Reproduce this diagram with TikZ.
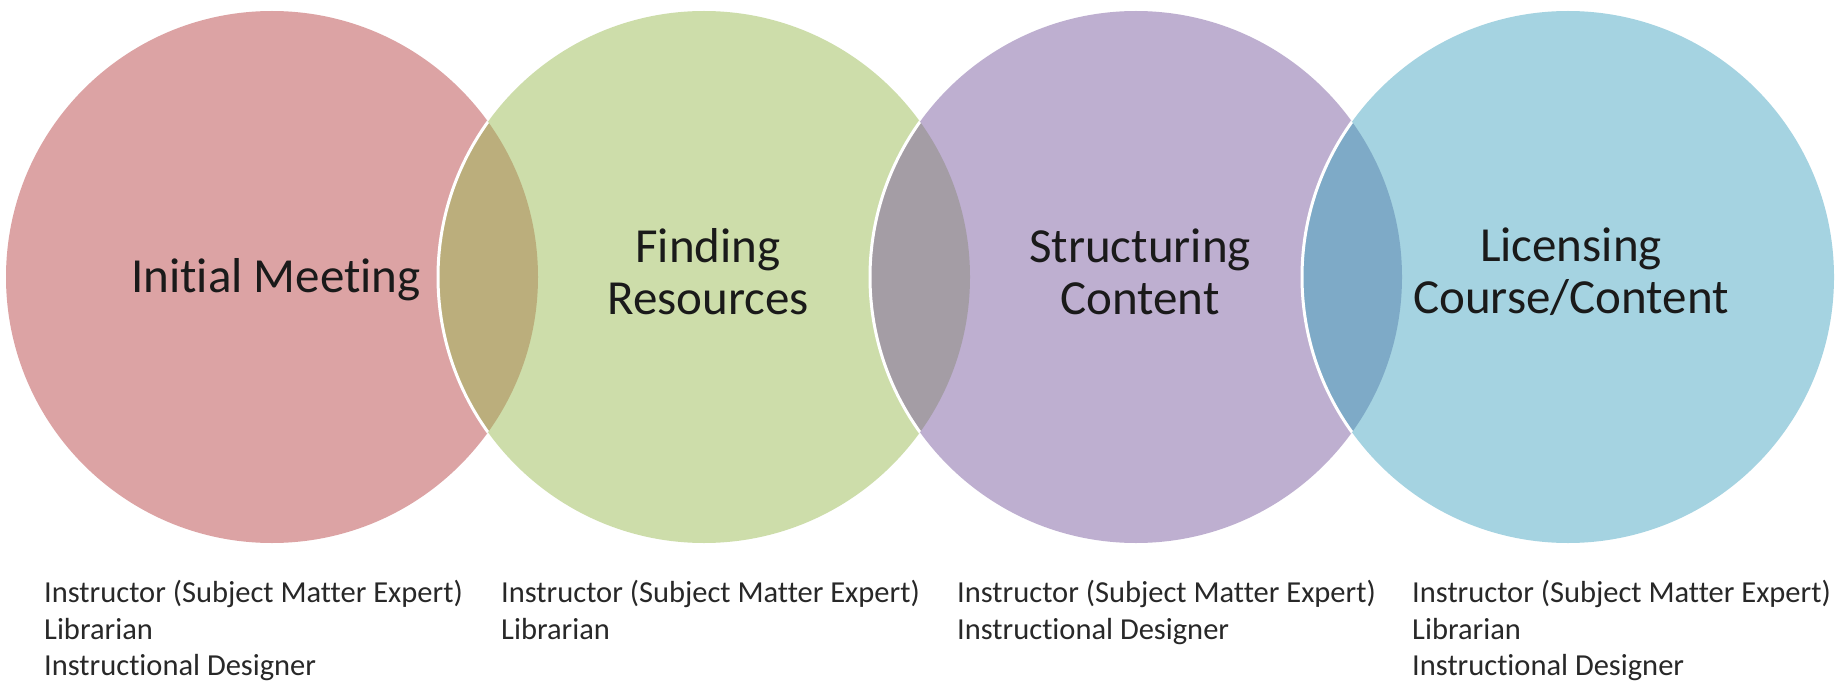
\documentclass[tikz,border=0pt]{standalone}
\usepackage{fontspec}
\setmainfont[Ligatures=NoCommon]{Carlito}
\definecolor{cRed}{RGB}{220,163,164}
\definecolor{cGreen}{RGB}{205,221,170}
\definecolor{cPurple}{RGB}{190,175,208}
\definecolor{cBlue}{RGB}{165,211,225}
\definecolor{oRG}{RGB}{187,174,124}
\definecolor{oGP}{RGB}{164,157,165}
\definecolor{oPB}{RGB}{126,170,199}
\definecolor{txt}{RGB}{26,26,26}
\definecolor{txtB}{RGB}{40,40,40}
\begin{document}
\begin{tikzpicture}[x=1pt,y=-1pt,
  bub/.style={circle,minimum size=532pt,inner sep=0pt,draw=none},
  ttl/.style={align=center,font=\fontsize{49}{52}\selectfont,text=txt,inner sep=0pt},
  who/.style={align=left,font=\fontsize{30.5}{36.5}\selectfont,anchor=north west,inner sep=0pt,text=txtB},
  rim/.style={draw=white,line width=3pt}]
\fill[white] (0,0) rectangle (1837,682);
\useasboundingbox (0,0) rectangle (1837,682);
% circles
\node[bub,fill=cRed]    (c1) at (272,277) {};
\node[bub,fill=cGreen]  (c2) at (704,277) {};
\node[bub,fill=cPurple] (c3) at (1136,277) {};
\node[bub,fill=cBlue]   (c4) at (1568,277) {};
% overlaps
\begin{scope}
  \clip (c1.center) circle[radius=266];
  \fill[oRG] (c2.center) circle[radius=266];
  \draw[rim] (c2.center) circle[radius=266];
\end{scope}
\begin{scope}
  \clip (c2.center) circle[radius=266];
  \fill[oGP] (c3.center) circle[radius=266];
  \draw[rim] (c3.center) circle[radius=266];
\end{scope}
\begin{scope}
  \clip (c3.center) circle[radius=266];
  \fill[oPB] (c4.center) circle[radius=266];
  \draw[rim] (c4.center) circle[radius=266];
\end{scope}
% titles
\node[ttl] (t1) at (276,280) {Initial Meeting};
\node[ttl] (t2) at (708,272) {Finding\\Resources};
\node[ttl] (t3) at (1140,272) {Structuring\\Content};
\node[ttl] (t4) at (1571,272) {Licensing\\Course/Content};
% roles
\node[who] (w1) at (44,580) {Instructor (Subject Matter Expert)\\Librarian\\Instructional Designer};
\node[who] (w2) at (501,580) {Instructor (Subject Matter Expert)\\Librarian};
\node[who] (w3) at (957,580) {Instructor (Subject Matter Expert)\\Instructional Designer};
\node[who] (w4) at (1412,580) {Instructor (Subject Matter Expert)\\Librarian\\Instructional Designer};
\end{tikzpicture}
\end{document}
